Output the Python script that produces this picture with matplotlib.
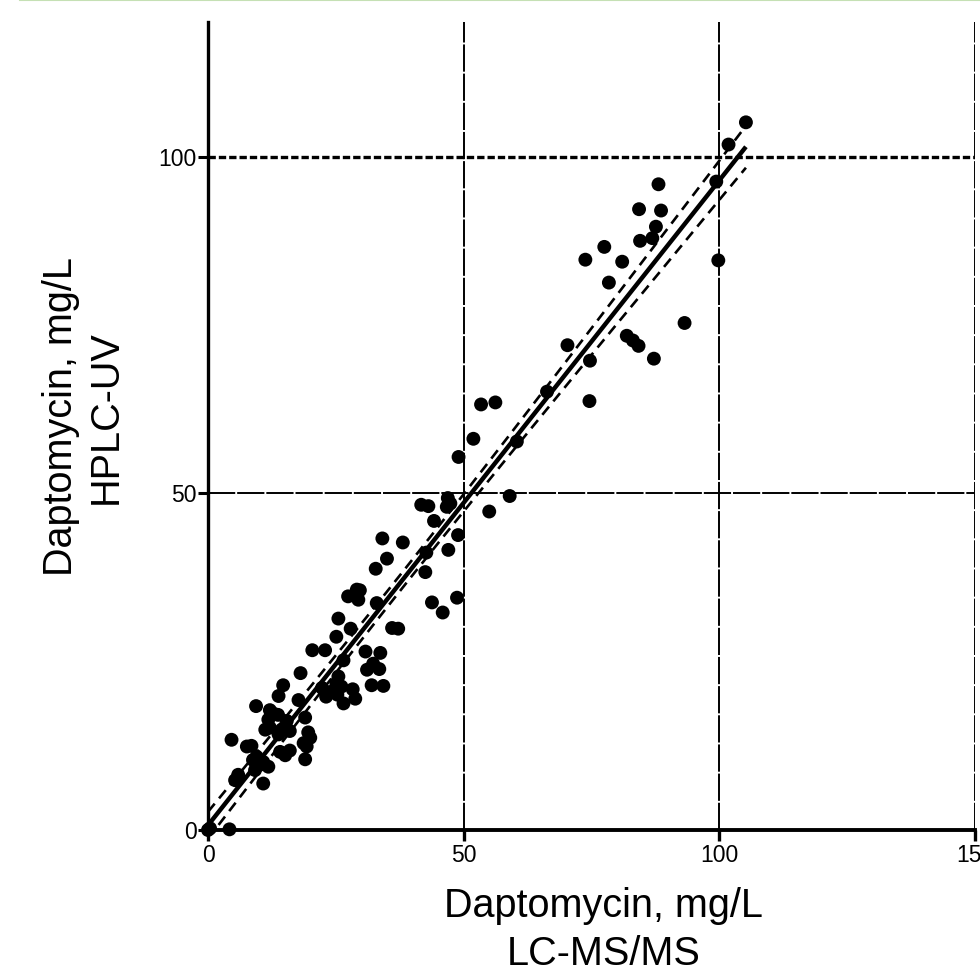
import matplotlib.pyplot as plt
import numpy as np
from matplotlib.lines import Line2D

plt.rcParams['font.family'] = ['Liberation Sans', 'DejaVu Sans']

# LC-MS/MS (x) vs HPLC-UV (y), mg/L
lcms = [105.2, 101.8, 99.4, 88.1, 84.3, 88.6, 87.6, 84.5, 86.9, 77.5,
        73.8, 81.0, 99.8, 78.4, 93.2, 81.9, 83.1, 84.2, 70.3, 74.7,
        87.2, 74.6, 66.3, 60.4, 59.0, 55.0, 53.4, 56.2, 51.9, 49.0,
        41.7, 43.1, 46.9, 46.7, 47.4, 44.2, 48.9, 34.1, 38.1, 42.7,
        47.0, 35.0, 32.8, 42.5, 29.1, 27.4, 29.4, 33.0, 43.8, 45.9,
        48.7, 37.2, 25.5, 27.9, 25.1, 20.4, 22.9, 30.8, 33.7, 26.5,
        32.3, 31.1, 33.5, 18.1, 25.5, 25.1, 26.1, 32.0, 34.3, 14.7,
        13.8, 22.3, 23.9, 28.3, 28.8, 26.5, 25.3, 23.1, 17.7, 9.4,
        12.1, 12.8, 11.8, 15.4, 14.4, 16.0, 13.8, 11.2, 19.0, 19.6,
        18.7, 20.0, 19.3, 4.6, 7.6, 8.5, 15.1, 16.0, 14.1, 19.0,
        9.5, 8.8, 10.2, 11.8, 10.8, 9.2, 10.8, 5.9, 5.3, 0.4,
        4.2, 0.0, 12.1, 13.7, 29.7, 36.0]
hplc = [105.1, 101.8, 96.3, 95.9, 92.2, 92.0, 89.6, 87.5, 87.9, 86.6,
        84.7, 84.4, 84.6, 81.3, 75.3, 73.4, 72.7, 71.9, 72.0, 69.7,
        70.0, 63.7, 65.1, 57.7, 49.6, 47.3, 63.2, 63.5, 58.1, 55.4,
        48.3, 48.1, 49.3, 48.0, 48.5, 45.9, 43.8, 43.3, 42.7, 41.2,
        41.6, 40.3, 38.8, 38.3, 35.7, 34.7, 34.2, 33.7, 33.8, 32.3,
        34.5, 29.9, 31.4, 29.9, 28.7, 26.7, 26.7, 26.5, 26.3, 25.2,
        24.7, 23.8, 23.9, 23.3, 22.8, 21.8, 21.3, 21.5, 21.4, 21.5,
        19.9, 21.1, 20.5, 20.9, 19.5, 18.8, 20.1, 19.8, 19.3, 18.4,
        17.8, 17.3, 16.4, 16.2, 14.9, 14.7, 14.2, 14.9, 16.7, 14.5,
        12.9, 13.7, 12.4, 13.4, 12.4, 12.5, 11.1, 11.8, 11.6, 10.5,
        10.9, 10.4, 9.7, 9.4, 10.1, 8.9, 6.9, 8.2, 7.4, 0.25,
        0.1, 0.0, 15.2, 17.1, 35.6, 30.0]

x_ticks = [0, 50, 100, 150]
y_ticks = [0, 50, 100]
t_crit = 1.98  # 95% two sided, n ~ 120

x = np.array(lcms)
y = np.array(hplc)

# linear fit + 95% confidence band
slope, intercept = np.polyfit(x, y, 1)
n = len(x)
resid = y - (slope * x + intercept)
s = np.sqrt(np.sum(resid ** 2) / (n - 2))
xs = np.linspace(x.min(), x.max(), 200)
ys = slope * xs + intercept
se = s * np.sqrt(1 / n + (xs - x.mean()) ** 2 / np.sum((x - x.mean()) ** 2))
upper = ys + t_crit * se
lower = ys - t_crit * se

fig = plt.figure(figsize=(9.8, 9.76), dpi=100)
ax = fig.add_axes([208 / 980, 1 - 830 / 976, (975 - 208) / 980, (830 - 22) / 976])
ax.set_xlim(0, 150)
ax.set_ylim(0, 120)

# grid lines
for gx in x_ticks[1:]:
    ax.axvline(gx, color='black', lw=1.4, dashes=(14, 1.0), zorder=1)
ax.axhline(50, color='black', lw=1.4, dashes=(14, 1.0), zorder=1)
ax.axhline(100, color='black', lw=2.4, dashes=(2.2, 0.9), zorder=1)

ax.plot(xs, ys, color='black', lw=3.2, solid_capstyle='butt', zorder=3)
ax.plot(xs, upper, color='black', lw=1.9, dashes=(4, 2.6), zorder=3)
ax.plot(xs, lower, color='black', lw=1.9, dashes=(4, 2.6), zorder=3)

ax.scatter(x, y, s=100, color='black', edgecolors='none', zorder=4, clip_on=False)

for side in ['top', 'right']:
    ax.spines[side].set_visible(False)
ax.spines['left'].set_linewidth(2.4)
ax.spines['bottom'].set_linewidth(2.8)

ax.set_xticks(x_ticks)
ax.set_yticks(y_ticks)
ax.tick_params(axis='x', direction='out', length=8, width=2.4, labelsize=16.5, pad=2)
ax.tick_params(axis='y', direction='out', length=7, width=2.2, labelsize=16.5, pad=1)

fig.text(604 / 980, 1 - 887 / 976, 'Daptomycin, mg/L\nLC-MS/MS', ha='center', va='top',
         fontsize=28.5, linespacing=1.33)
fig.text(83 / 980, 1 - 417 / 976, 'Daptomycin, mg/L\nHPLC-UV', ha='center', va='center',
         rotation=90, fontsize=28.5, linespacing=1.22)

# thin green rule along the top edge
fig.add_artist(Line2D([20 / 980, 1], [0.9995, 0.9995], color='#c5e0b4', lw=1.5,
                      transform=fig.transFigure))

fig.savefig('out.png', dpi=100)
